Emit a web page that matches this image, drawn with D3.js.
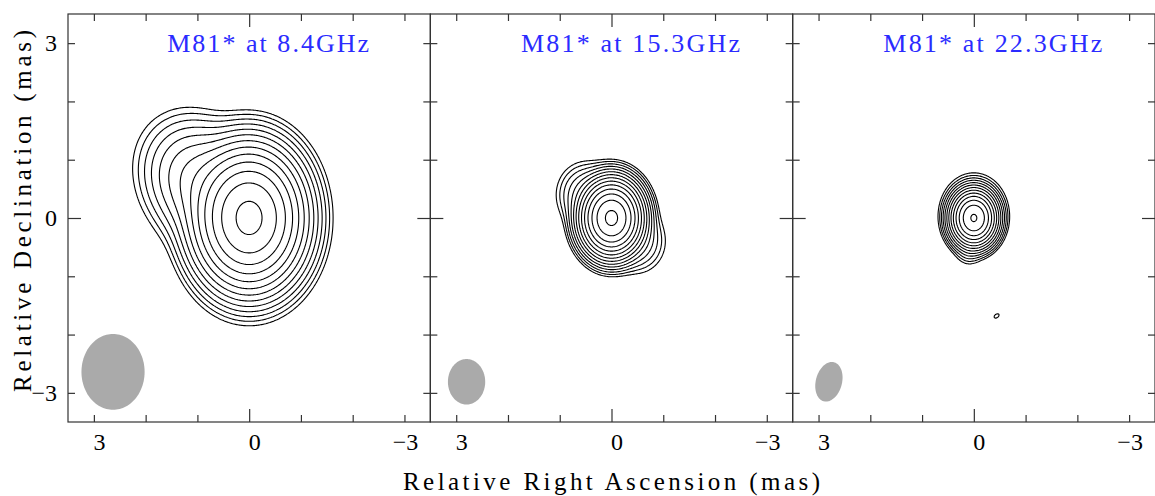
<!DOCTYPE html>
<html>
<head>
<meta charset="utf-8">
<script src="https://cdn.jsdelivr.net/npm/d3@7"></script>
<style>
  body { margin: 0; background: #fff; }
  svg { display: block; }
  text { font-family: "Liberation Serif", "DejaVu Serif", serif; }
</style>
</head>
<body>
<svg id="chart" width="1155" height="496"></svg>
<script>
// ---- data -------------------------------------------------------------
const titles = ["M81* at 8.4GHz", "M81* at 15.3GHz", "M81* at 22.3GHz"];

// contour levels: lowest level (fraction of peak) times powers of two
const levelSteps = [1, 2, 4, 8, 16, 32, 64, 128, 256, 512, 1024, 2048, 4096, 8192];
const lowestLevel = [0.0002, 0.000105, 0.00023];
const levelCount = [13, 14, 13];

// Gaussian model components: flux (fraction of peak), RA/Dec offset (mas),
// FWHM major/minor (mas), position angle (deg, east of north)
const comps84 = [
  { flux: 1.0,   x: 0.0,  y: 0.0,  maj: 1.055, min: 0.925, pa: 0 },
  { flux: 0.02,  x: 0.85, y: 0.55, maj: 1.18,  min: 0.94,  pa: 50 }
];
const comps153 = [
  { flux: 1.0,    x: 0.0,   y: 0.0,   maj: 0.553, min: 0.506, pa: 0 },
  { flux: 0.002,  x: 0.5,   y: 0.4,   maj: 0.55,  min: 0.55,  pa: 0 },
  { flux: 0.0015, x: -0.5,  y: -0.4,  maj: 0.55,  min: 0.55,  pa: 0 }
];
const comps223 = [
  { flux: 1.0,     x: 0.0,   y: 0.0,   maj: 0.42, min: 0.39, pa: 0 },
  { flux: 0.003,   x: 0.0,   y: 0.15,  maj: 0.60, min: 0.60, pa: 0 },
  { flux: 0.001,   x: 0.1,   y: -0.55, maj: 0.30, min: 0.30, pa: 0 },
  { flux: 0.00028, x: -0.44, y: -1.68, maj: 0.20, min: 0.12, pa: -60 }
];
const components = [comps84, comps153, comps223];

// restoring beams (FWHM ellipses, mas)
const beams = [
  { x: 2.63, y: -2.64, maj: 1.30, min: 1.22, pa: 0 },
  { x: 2.80, y: -2.81, maj: 0.78, min: 0.72, pa: 0 },
  { x: 2.80, y: -2.81, maj: 0.70, min: 0.50, pa: -20 }
];

const axisTicks = [-3, -2, -1, 1, 2, 3];
const majorTicks = [0];
const tickLabels = [3, 0, -3];

// ---- layout -----------------------------------------------------------
const svg = d3.select("#chart");
const frameLeft = 68, frameRight = 1155, frameTop = 14, frameBottom = 422;
const panelW = (frameRight - frameLeft) / 3;
const span = 3.5;
const minorLen = 7, majorLen = 13;
const frameColor = "#333";
const fmt = v => (v < 0 ? "\u2212" + Math.abs(v) : String(v));

function gaussSum(comps, mx, my) {
  let s = 0;
  for (const c of comps) {
    const sMaj = c.maj / 2.3548, sMin = c.min / 2.3548;
    const t = c.pa * Math.PI / 180;
    const dx = mx - c.x, dy = my - c.y;
    const u = dx * Math.sin(t) + dy * Math.cos(t);
    const v = dx * Math.cos(t) - dy * Math.sin(t);
    s += c.flux * Math.exp(-0.5 * (u * u / (sMaj * sMaj) + v * v / (sMin * sMin)));
  }
  return s;
}

titles.forEach((title, k) => {
  const x0 = frameLeft + k * panelW;
  const xs = d3.scaleLinear().domain([span, -span]).range([x0, x0 + panelW]);
  const ys = d3.scaleLinear().domain([span, -span]).range([frameTop, frameBottom]);
  const g = svg.append("g");

  const clipId = "clip" + k;
  svg.append("clipPath").attr("id", clipId)
    .append("rect").attr("x", x0).attr("y", frameTop)
    .attr("width", panelW).attr("height", frameBottom - frameTop);

  const plot = g.append("g").attr("clip-path", `url(#${clipId})`);

  // beam ellipse
  const b = beams[k];
  const bt = b.pa * Math.PI / 180;
  const beamPts = d3.range(0, 361, 3).map(a => {
    const r = a * Math.PI / 180;
    const u = (b.maj / 2) * Math.cos(r), v = (b.min / 2) * Math.sin(r);
    const ex = b.x + u * Math.sin(bt) + v * Math.cos(bt);
    const ey = b.y + u * Math.cos(bt) - v * Math.sin(bt);
    return [xs(ex), ys(ey)];
  });
  plot.append("path").attr("d", d3.line()(beamPts) + "Z")
    .attr("fill", "#aaaaaa").attr("stroke", "none");

  // model brightness grid
  const n = 351, step = 2 * span / (n - 1);
  const values = new Float64Array(n * n);
  for (let j = 0; j < n; j++) {
    const my = span - j * step;
    for (let i = 0; i < n; i++) {
      const mx = span - i * step;
      values[j * n + i] = gaussSum(components[k], mx, my);
    }
  }
  const thresholds = levelSteps.slice(0, levelCount[k]).map(s => s * lowestLevel[k]);
  const contours = d3.contours().size([n, n]).thresholds(thresholds)(values);
  const proj = d3.geoTransform({
    point(cx, cy) {
      this.stream.point(xs(span - (cx - 0.5) * step), ys(span - (cy - 0.5) * step));
    }
  });
  const path = d3.geoPath(proj);
  plot.selectAll("path.contour").data(contours).join("path")
    .attr("class", "contour")
    .attr("d", path)
    .attr("fill", "none")
    .attr("stroke", "#000")
    .attr("stroke-width", 1.1)
    .attr("stroke-linejoin", "round");

  // ticks on all four sides, pointing inward
  const addAxis = (axis, tx, ty) => {
    const a = g.append("g").attr("transform", `translate(${tx},${ty})`).call(axis);
    a.select(".domain").remove();
    a.selectAll("line").attr("stroke", frameColor).attr("stroke-width", 1.2);
    a.selectAll("text").remove();
  };
  [[axisTicks, minorLen], [majorTicks, majorLen]].forEach(([vals, len]) => {
    addAxis(d3.axisBottom(xs).tickValues(vals).tickSize(-len).tickFormat(""), 0, frameBottom);
    addAxis(d3.axisTop(xs).tickValues(vals).tickSize(-len).tickFormat(""), 0, frameTop);
    addAxis(d3.axisLeft(ys).tickValues(vals).tickSize(-len).tickFormat(""), x0, 0);
    addAxis(d3.axisRight(ys).tickValues(vals).tickSize(-len).tickFormat(""), x0 + panelW, 0);
  });

  // frame
  g.append("rect").attr("x", x0).attr("y", frameTop)
    .attr("width", panelW).attr("height", frameBottom - frameTop)
    .attr("fill", "none").attr("stroke", frameColor).attr("stroke-width", 1.2);

  // bottom tick labels
  g.selectAll("text.xl").data(tickLabels).join("text")
    .attr("class", "xl")
    .attr("x", v => xs(v) + (v < 0 ? 1 : 5.5))
    .attr("y", 450)
    .attr("text-anchor", "middle")
    .attr("font-size", 24)
    .text(fmt);

  // left tick labels on the first panel
  if (k === 0) {
    g.selectAll("text.yl").data(tickLabels).join("text")
      .attr("class", "yl")
      .attr("x", 57)
      .attr("y", v => ys(v) + 8)
      .attr("text-anchor", "end")
      .attr("font-size", 24)
      .text(fmt);
  }

  // panel title
  const tlen = title.length === 14 ? 202 : 219;
  g.append("text")
    .attr("x", xs(0) + 19)
    .attr("y", 52)
    .attr("text-anchor", "middle")
    .attr("font-size", 26)
    .attr("fill", "#2b2bff")
    .attr("textLength", tlen)
    .attr("lengthAdjust", "spacing")
    .text(title);
});

// axis titles
svg.append("text")
  .attr("x", 611.5).attr("y", 490)
  .attr("text-anchor", "middle")
  .attr("font-size", 25)
  .attr("textLength", 417).attr("lengthAdjust", "spacing")
  .text("Relative Right Ascension (mas)");

svg.append("text")
  .attr("transform", "translate(31,211) rotate(-90)")
  .attr("text-anchor", "middle")
  .attr("font-size", 25)
  .attr("textLength", 362).attr("lengthAdjust", "spacing")
  .text("Relative Declination (mas)");
</script>
</body>
</html>
